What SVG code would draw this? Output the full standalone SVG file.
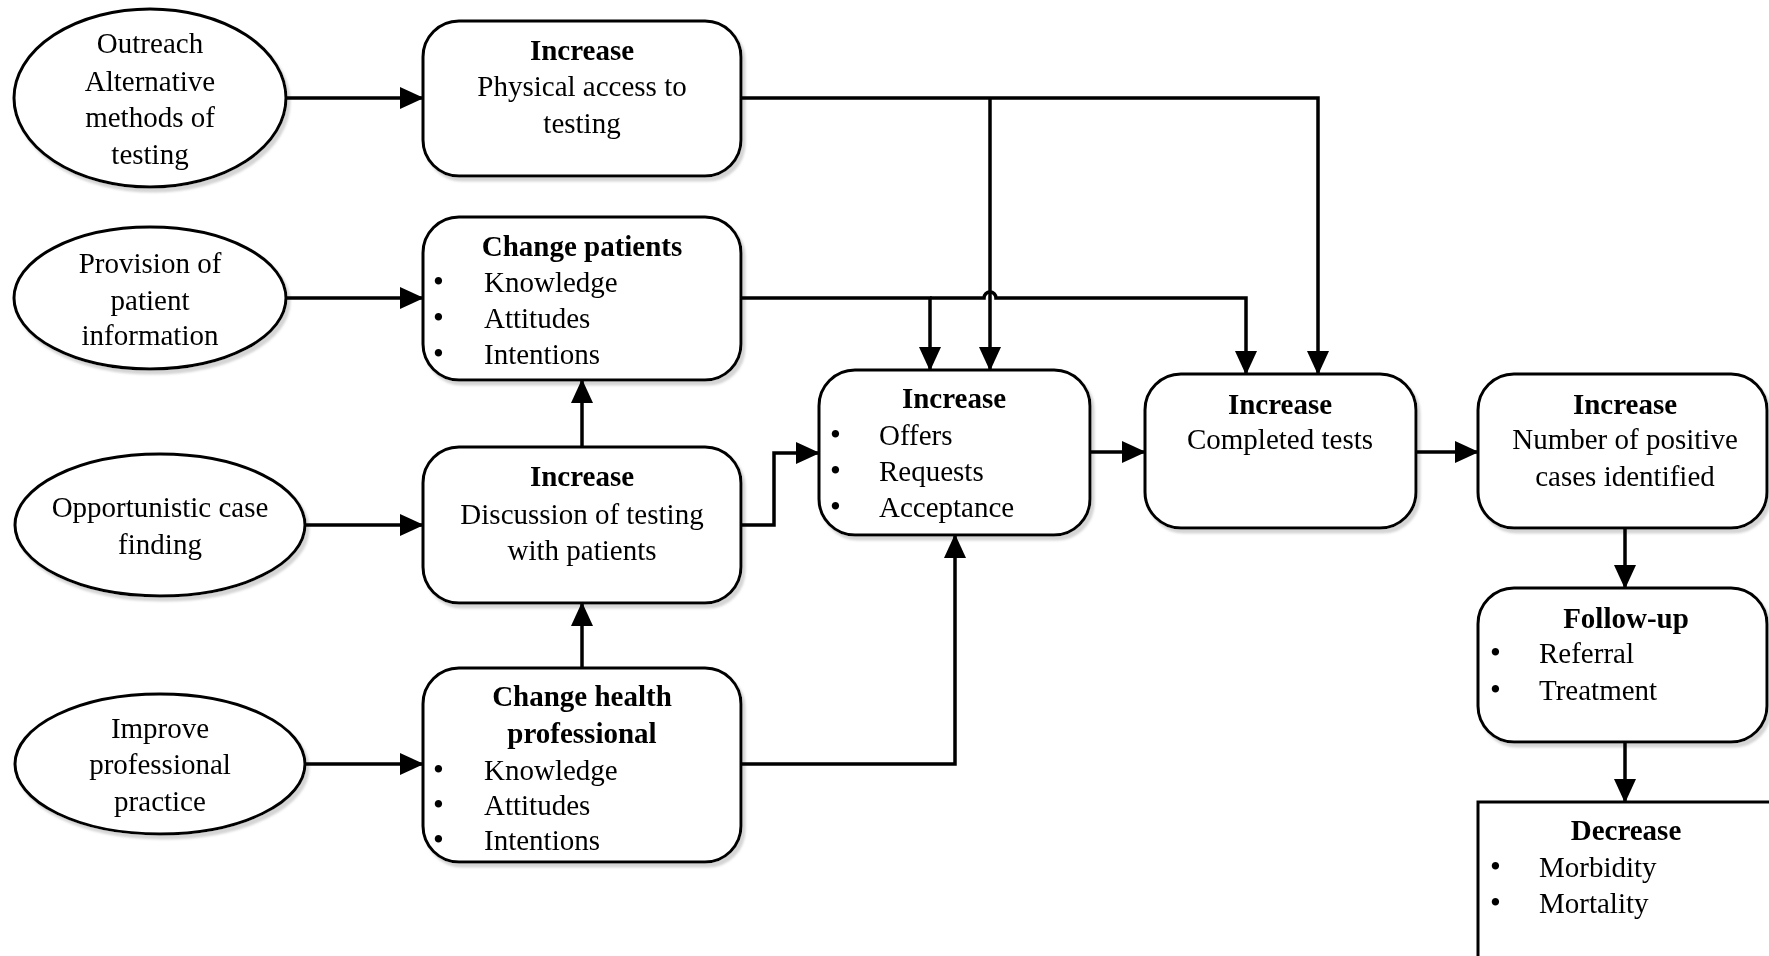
<svg xmlns="http://www.w3.org/2000/svg" width="1769" height="956" viewBox="0 0 1769 956">
<defs>
<style>
.shape{fill:#fff;stroke:#000;stroke-width:3}
.t{font-family:"Liberation Serif","Times New Roman",serif;font-size:29px;fill:#000}
.c{text-anchor:middle}
.b{font-weight:bold}
.d{font-size:31px}
.conn path{fill:none;stroke:#000;stroke-width:3.5}
</style>
<filter id="sh" x="-10%" y="-10%" width="120%" height="130%">
<feDropShadow dx="3" dy="4" stdDeviation="0.8" flood-color="#aaa" flood-opacity="0.5"/>
</filter>
<marker id="ah" viewBox="0 0 24 22" refX="23" refY="11" markerWidth="24" markerHeight="22" markerUnits="userSpaceOnUse" orient="auto">
<path d="M0,0 L24,11 L0,22 Z" fill="#000"/>
</marker>
</defs>
<rect width="1769" height="956" fill="#fff"/>

<g id="e1" filter="url(#sh)">
<ellipse class="shape" cx="150" cy="98" rx="136" ry="89"/>
<text class="t c" x="150" y="53">Outreach</text>
<text class="t c" x="150" y="91">Alternative</text>
<text class="t c" x="150" y="127">methods of</text>
<text class="t c" x="150" y="164">testing</text>
</g>
<g id="e2" filter="url(#sh)">
<ellipse class="shape" cx="150" cy="298" rx="136" ry="71"/>
<text class="t c" x="150" y="273">Provision of</text>
<text class="t c" x="150" y="310">patient</text>
<text class="t c" x="150" y="345">information</text>
</g>
<g id="e3" filter="url(#sh)">
<ellipse class="shape" cx="160" cy="525" rx="145" ry="71"/>
<text class="t c" x="160" y="517">Opportunistic case</text>
<text class="t c" x="160" y="554">finding</text>
</g>
<g id="e4" filter="url(#sh)">
<ellipse class="shape" cx="160" cy="764" rx="145" ry="70"/>
<text class="t c" x="160" y="738">Improve</text>
<text class="t c" x="160" y="774">professional</text>
<text class="t c" x="160" y="811">practice</text>
</g>

<g id="b1" filter="url(#sh)">
<rect class="shape" x="423" y="21" width="318" height="155" rx="36" ry="36"/>
<text class="t c b" x="582" y="60">Increase</text>
<text class="t c" x="582" y="96">Physical access to</text>
<text class="t c" x="582" y="133">testing</text>
</g>
<g id="b2" filter="url(#sh)">
<rect class="shape" x="423" y="217" width="318" height="163" rx="36" ry="36"/>
<text class="t c b" x="582" y="256">Change patients</text>
<text class="t d" x="433" y="292">•</text><text class="t" x="484" y="292">Knowledge</text>
<text class="t d" x="433" y="328">•</text><text class="t" x="484" y="328">Attitudes</text>
<text class="t d" x="433" y="364">•</text><text class="t" x="484" y="364">Intentions</text>
</g>
<g id="b3" filter="url(#sh)">
<rect class="shape" x="423" y="447" width="318" height="156" rx="36" ry="36"/>
<text class="t c b" x="582" y="486">Increase</text>
<text class="t c" x="582" y="524">Discussion of testing</text>
<text class="t c" x="582" y="560">with patients</text>
</g>
<g id="b4" filter="url(#sh)">
<rect class="shape" x="423" y="668" width="318" height="194" rx="36" ry="36"/>
<text class="t c b" x="582" y="706">Change health</text>
<text class="t c b" x="582" y="743">professional</text>
<text class="t d" x="433" y="780">•</text><text class="t" x="484" y="780">Knowledge</text>
<text class="t d" x="433" y="815">•</text><text class="t" x="484" y="815">Attitudes</text>
<text class="t d" x="433" y="850">•</text><text class="t" x="484" y="850">Intentions</text>
</g>
<g id="b5" filter="url(#sh)">
<rect class="shape" x="819" y="370" width="271" height="165" rx="36" ry="36"/>
<text class="t c b" x="954" y="408">Increase</text>
<text class="t d" x="830" y="445">•</text><text class="t" x="879" y="445">Offers</text>
<text class="t d" x="830" y="481">•</text><text class="t" x="879" y="481">Requests</text>
<text class="t d" x="830" y="517">•</text><text class="t" x="879" y="517">Acceptance</text>
</g>
<g id="b6" filter="url(#sh)">
<rect class="shape" x="1145" y="374" width="271" height="154" rx="36" ry="36"/>
<text class="t c b" x="1280" y="414">Increase</text>
<text class="t c" x="1280" y="449">Completed tests</text>
</g>
<g id="b7" filter="url(#sh)">
<rect class="shape" x="1478" y="374" width="289" height="154" rx="36" ry="36"/>
<text class="t c b" x="1625" y="414">Increase</text>
<text class="t c" x="1625" y="449">Number of positive</text>
<text class="t c" x="1625" y="486">cases identified</text>
</g>
<g id="b8" filter="url(#sh)">
<rect class="shape" x="1478" y="588" width="289" height="154" rx="36" ry="36"/>
<text class="t c b" x="1626" y="628">Follow-up</text>
<text class="t d" x="1490" y="663">•</text><text class="t" x="1539" y="663">Referral</text>
<text class="t d" x="1490" y="700">•</text><text class="t" x="1539" y="700">Treatment</text>
</g>
<g id="b9" filter="url(#sh)">
<rect class="shape" x="1478" y="802" width="300" height="160"/>
<text class="t c b" x="1626" y="840">Decrease</text>
<text class="t d" x="1490" y="877">•</text><text class="t" x="1539" y="877">Morbidity</text>
<text class="t d" x="1490" y="913">•</text><text class="t" x="1539" y="913">Mortality</text>
</g>

<g id="connectors" class="conn">
<path d="M286,98 H423" marker-end="url(#ah)"/>
<path d="M286,298 H423" marker-end="url(#ah)"/>
<path d="M305,525 H423" marker-end="url(#ah)"/>
<path d="M305,764 H423" marker-end="url(#ah)"/>
<path d="M582,668 V603" marker-end="url(#ah)"/>
<path d="M582,447 V380" marker-end="url(#ah)"/>
<path d="M741,98 H1318 V374" marker-end="url(#ah)"/>
<path d="M990,98 V370" marker-end="url(#ah)"/>
<path d="M741,298 H930 V370" marker-end="url(#ah)"/>
<path d="M930,298 H984 A6,6 0 0 1 996,298 H1246 V374" marker-end="url(#ah)"/>
<path d="M741,525 H774 V453 H819" marker-end="url(#ah)"/>
<path d="M741,764 H955 V535" marker-end="url(#ah)"/>
<path d="M1090,452 H1145" marker-end="url(#ah)"/>
<path d="M1416,452 H1478" marker-end="url(#ah)"/>
<path d="M1625,528 V588" marker-end="url(#ah)"/>
<path d="M1625,742 V802" marker-end="url(#ah)"/>
</g>
</svg>
